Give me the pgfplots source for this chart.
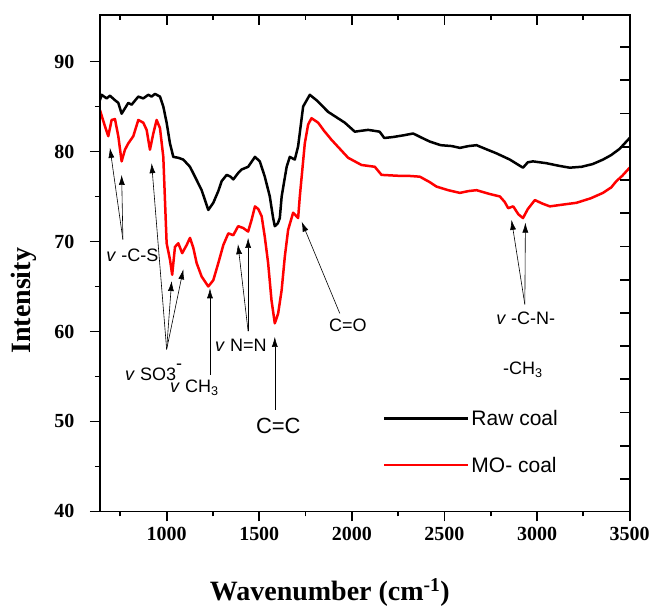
\documentclass[border=0pt]{standalone}
\usepackage{fontspec}
\setmainfont{Liberation Serif}
\newfontfamily\arial{Liberation Sans}
\usepackage{pgfplots}
\pgfplotsset{compat=1.18}
\usetikzlibrary{arrows.meta}

\pgfplotstableread{
x y
640 85.7
649 86.3
676 85.9
694 86.2
721 85.7
739 85.4
757 84.2
775 84.8
793 85.4
811 85.2
847 86.1
874 85.9
901 86.3
919 86.1
937 86.4
964 86.1
982 85.0
1000 83.2
1018 80.9
1036 79.4
1063 79.3
1090 79.1
1126 78.3
1153 77.2
1189 75.7
1225 73.5
1252 74.3
1279 75.6
1297 76.7
1324 77.4
1345 77.2
1360 76.9
1386 77.6
1405 78.0
1440 78.3
1477 79.4
1503 78.9
1530 77.2
1557 75.0
1575 72.6
1584 71.7
1600 72.0
1611 72.6
1621 75.0
1648 78.3
1665 79.4
1692 79.1
1710 80.6
1737 85.0
1773 86.3
1809 85.7
1872 84.4
1962 83.2
2016 82.2
2050 82.3
2088 82.4
2120 82.3
2150 82.2
2175 81.5
2220 81.6
2280 81.8
2331 82.0
2380 81.5
2421 81.1
2480 80.7
2540 80.6
2583 80.4
2630 80.6
2673 80.7
2720 80.3
2780 79.8
2853 79.1
2900 78.5
2924 78.2
2950 78.8
2978 78.9
3050 78.7
3120 78.4
3176 78.2
3240 78.3
3300 78.6
3356 79.1
3400 79.6
3446 80.3
3500 81.5
}\rawcoal

\pgfplotstableread{
x y
640 84.6
649 84.0
667 82.8
685 81.7
703 83.5
721 83.6
739 81.7
757 78.9
775 80.2
793 80.9
820 81.7
847 83.5
874 83.2
892 82.4
910 80.2
928 82.0
946 83.5
964 82.6
982 79.4
991 74.6
1000 69.8
1018 68.0
1030 66.3
1045 69.4
1063 69.8
1084 68.7
1108 69.6
1126 70.4
1144 69.3
1162 67.6
1189 66.1
1225 65.0
1252 65.7
1279 67.6
1306 69.6
1333 70.9
1360 70.7
1386 71.7
1413 71.5
1440 71.1
1460 72.5
1477 73.9
1495 73.6
1513 72.8
1530 70.5
1548 67.6
1566 63.5
1584 60.9
1602 62.0
1621 64.6
1638 68.3
1656 71.3
1683 73.2
1710 72.6
1719 75.0
1746 80.9
1764 83.0
1782 83.7
1818 83.2
1850 82.3
1890 81.3
1935 80.3
1980 79.3
2052 78.5
2124 78.3
2160 77.4
2250 77.3
2300 77.3
2367 77.2
2420 76.6
2457 76.1
2520 75.7
2583 75.4
2630 75.6
2673 75.7
2740 75.3
2799 75.0
2825 74.4
2844 73.7
2871 73.9
2900 73.0
2924 72.6
2950 73.6
2988 74.6
3030 74.2
3069 73.9
3140 74.1
3213 74.3
3290 74.8
3356 75.4
3400 76.0
3428 76.7
3460 77.3
3500 78.2
}\mocoal

\begin{document}
\begin{tikzpicture}
\pgfplotsset{
  common/.style={
    scale only axis, width=530pt, height=497pt,
    xmin=640, xmax=3500, ymin=40, ymax=95.2,
    axis line style={line width=1.8pt},
    every tick/.style={line width=1.8pt, black},
    major tick length=10pt, minor tick length=5pt,
  }
}
\begin{axis}[common,
  xtick pos=left, ytick pos=left, tick align=outside,
  xtick={1000,1500,...,3500}, minor xtick={750,1250,...,3250},
  ytick={40,50,...,90}, minor ytick={45,55,...,85},
  ticklabel style={font=\fontsize{20}{20}\selectfont\bfseries},
  /pgf/number format/assume math mode=true,
  /pgf/number format/1000 sep={},
  yticklabel style={xshift=-12pt},
  xticklabel style={yshift=-2pt},
  xlabel={Wavenumber (cm\textsuperscript{-1})},
  ylabel={Intensity},
  xlabel style={font=\fontsize{28}{28}\selectfont\bfseries, at={(axis description cs:0.434,-0.1636)}, anchor=center},
  ylabel style={font=\fontsize{28}{28}\selectfont\bfseries, at={(axis description cs:-0.143,0.424)}, anchor=center},
  clip mode=individual,
  legend style={at={(axis description cs:0.534,0.14)}, anchor=west, draw=none, fill=none,
    font=\arial\fontsize{21}{21}\selectfont, row sep=26pt, inner sep=0pt},
  legend image code/.code={\draw[#1] (0pt,0pt) -- (84pt,0pt);},
  legend cell align=left,
]
\addplot[black, line width=2.5pt, line join=round] table[x=x,y=y] {\rawcoal};
\addlegendentry{Raw coal}
\addplot[red, line width=2.5pt, line join=round] table[x=x,y=y] {\mocoal};
\addlegendentry{MO- coal}

% bounding box to match reference margins
\path (axis description cs:-0.1887,1.0296) rectangle (axis description cs:1.0434,-0.1877);

\tikzset{ann/.style={-{Latex[length=10pt,width=6pt]}, line width=0.6pt, black}}
% C-S
\draw[ann] (axis cs:764,70.2) -- (axis cs:694,80.4);
\draw[ann] (axis cs:764,70.2) -- (axis cs:757,77.4);
% SO3
\draw[ann] (axis cs:1000,58.0) -- (axis cs:919,78.7);
\draw[ann] (axis cs:1000,58.0) -- (axis cs:1027,65.6);
\draw[ann] (axis cs:1000,58.0) -- (axis cs:1090,66.9);
% CH3
\draw[ann] (axis cs:1234,55.2) -- (axis cs:1234,64.8);
% N=N
\draw[ann] (axis cs:1440,60.0) -- (axis cs:1385,69.7);
\draw[ann] (axis cs:1440,60.0) -- (axis cs:1440,70.4);
% C=C
\draw[ann] (axis cs:1584,51.3) -- (axis cs:1584,59.4);
% C=O
\draw[ann] (axis cs:1935,62.0) -- (axis cs:1729,72.2);
% C-N
\draw[ann] (axis cs:2934,63.0) -- (axis cs:2862,72.4);
\draw[ann] (axis cs:2934,63.0) -- (axis cs:2937,72.1);

\tikzset{lab/.style={font=\arial\fontsize{18}{18}\selectfont, inner sep=0pt}}
\node[lab] at (axis cs:815,68.5) {\textit{v} -C-S};
\node[lab, anchor=west] at (axis cs:775,55.5) {\textit{v} SO3\raisebox{0.6em}{-}};
\node[lab, anchor=west] at (axis cs:1018,53.7) {\textit{v} CH\textsubscript{3}};
\node[lab, anchor=west] at (axis cs:1261,58.5) {\textit{v} N=N};
\node[lab, font=\arial\fontsize{22}{22}\selectfont] at (axis cs:1603,49.5) {C=C};
\node[lab] at (axis cs:1978,60.7) {C=O};
\node[lab] at (axis cs:2939,61.5) {\textit{v} -C-N-};
\node[lab] at (axis cs:2923,55.7) {-CH\textsubscript{3}};
\end{axis}

\begin{axis}[common,
  xtick pos=right, ytick pos=right, tick align=inside,
  xtick={1000,1500,...,3500}, minor xtick={750,1250,...,3250},
  ytick={43.62,47.31,51.00,54.69,58.38,62.07,65.76,69.45,73.14,76.83,80.52,84.21,87.90,91.59},
  xticklabels={}, yticklabels={},
]
\end{axis}
\end{tikzpicture}
\end{document}
